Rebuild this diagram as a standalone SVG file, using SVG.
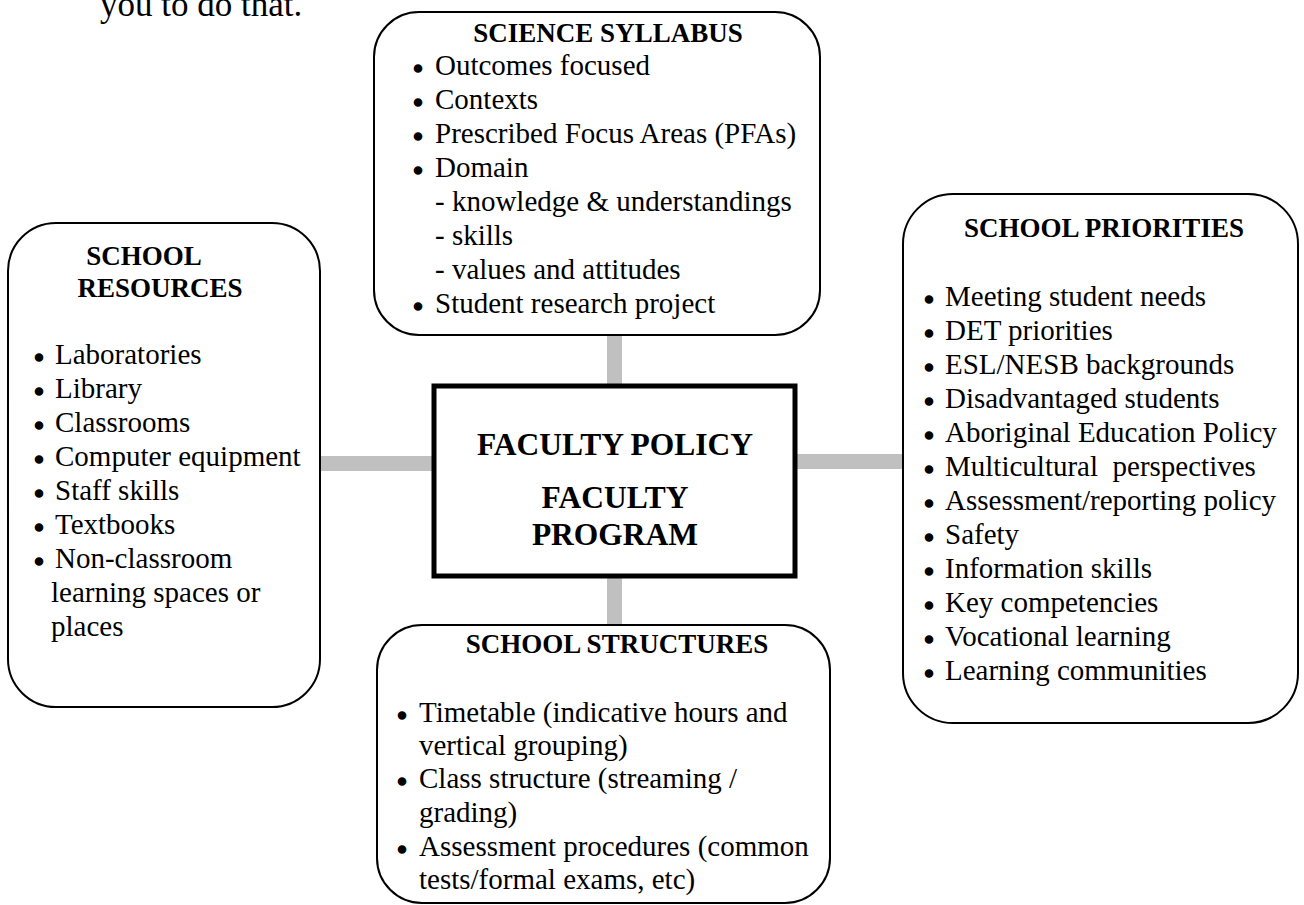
<svg xmlns="http://www.w3.org/2000/svg" width="1304" height="905" viewBox="0 0 1304 905">
  <style>
    text { font-family: "Liberation Serif", "Times New Roman", serif; fill: #000; }
    .body { font-size: 29px; }
    .dot { font-size: 30px; text-anchor: middle; stroke: #000; stroke-width: 1.4; }
    .head { font-size: 27px; font-weight: bold; text-anchor: middle; }
    .core { font-size: 31.5px; font-weight: bold; text-anchor: middle; }
    .box { fill: #fff; stroke: #000; stroke-width: 2; }
    .core-box { fill: #fff; stroke: #000; stroke-width: 5; }
    .link { fill: #c0c0c0; }
  </style>

  <!-- running text above the figure -->
  <text x="100" y="16" style="font-size:35px">you to do that.</text>

  <!-- grey bars joining the centre box to the four surrounding boxes -->
  <g id="connectors">
    <rect class="link" x="607" y="330" width="15" height="60"/>
    <rect class="link" x="607" y="572" width="15" height="58"/>
    <rect class="link" x="316" y="456" width="120" height="15"/>
    <rect class="link" x="793" y="454" width="114" height="15"/>
  </g>

  <g id="science-syllabus">
    <rect class="box" x="374" y="12" width="446" height="323" rx="45" ry="45"/>
    <text class="head" x="608" y="42">SCIENCE SYLLABUS</text>
    <text class="dot" x="418" y="78.5">•</text>
    <text class="body" x="435" y="75">Outcomes focused</text>
    <text class="dot" x="418" y="112.5">•</text>
    <text class="body" x="435" y="109">Contexts</text>
    <text class="dot" x="418" y="146.5">•</text>
    <text class="body" x="435" y="143">Prescribed Focus Areas (PFAs)</text>
    <text class="dot" x="418" y="180.5">•</text>
    <text class="body" x="435" y="177">Domain</text>
    <text class="body" x="435" y="211">- knowledge &amp; understandings</text>
    <text class="body" x="435" y="245">- skills</text>
    <text class="body" x="435" y="279">- values and attitudes</text>
    <text class="dot" x="418" y="316.5">•</text>
    <text class="body" x="435" y="313">Student research project</text>
  </g>

  <g id="school-resources">
    <rect class="box" x="8" y="223" width="312" height="484" rx="48" ry="48"/>
    <text class="head" x="144" y="265">SCHOOL</text>
    <text class="head" x="160" y="297">RESOURCES</text>
    <text class="dot" x="39" y="367.5">•</text>
    <text class="body" x="55" y="364">Laboratories</text>
    <text class="dot" x="39" y="401.5">•</text>
    <text class="body" x="55" y="398">Library</text>
    <text class="dot" x="39" y="435.5">•</text>
    <text class="body" x="55" y="432">Classrooms</text>
    <text class="dot" x="39" y="469.5">•</text>
    <text class="body" x="55" y="466">Computer equipment</text>
    <text class="dot" x="39" y="503.5">•</text>
    <text class="body" x="55" y="500">Staff skills</text>
    <text class="dot" x="39" y="537.5">•</text>
    <text class="body" x="55" y="534">Textbooks</text>
    <text class="dot" x="39" y="571.5">•</text>
    <text class="body" x="55" y="568">Non-classroom</text>
    <text class="body" x="51" y="602">learning spaces or</text>
    <text class="body" x="51" y="636">places</text>
  </g>

  <g id="faculty-program">
    <rect class="core-box" x="434" y="386" width="361" height="190"/>
    <text class="core" x="615" y="455">FACULTY POLICY</text>
    <text class="core" x="615" y="508">FACULTY</text>
    <text class="core" x="615" y="545">PROGRAM</text>
  </g>

  <g id="school-priorities">
    <rect class="box" x="903" y="194" width="395" height="529" rx="50" ry="50"/>
    <text class="head" x="1104" y="237">SCHOOL PRIORITIES</text>
    <text class="dot" x="929" y="309.5">•</text>
    <text class="body" x="945" y="306">Meeting student needs</text>
    <text class="dot" x="929" y="343.5">•</text>
    <text class="body" x="945" y="340">DET priorities</text>
    <text class="dot" x="929" y="377.5">•</text>
    <text class="body" x="945" y="374">ESL/NESB backgrounds</text>
    <text class="dot" x="929" y="411.5">•</text>
    <text class="body" x="945" y="408">Disadvantaged students</text>
    <text class="dot" x="929" y="445.5">•</text>
    <text class="body" x="945" y="442">Aboriginal Education Policy</text>
    <text class="dot" x="929" y="479.5">•</text>
    <text class="body" x="945" y="476">Multicultural&#160; perspectives</text>
    <text class="dot" x="929" y="513.5">•</text>
    <text class="body" x="945" y="510">Assessment/reporting policy</text>
    <text class="dot" x="929" y="547.5">•</text>
    <text class="body" x="945" y="544">Safety</text>
    <text class="dot" x="929" y="581.5">•</text>
    <text class="body" x="945" y="578">Information skills</text>
    <text class="dot" x="929" y="615.5">•</text>
    <text class="body" x="945" y="612">Key competencies</text>
    <text class="dot" x="929" y="649.5">•</text>
    <text class="body" x="945" y="646">Vocational learning</text>
    <text class="dot" x="929" y="683.5">•</text>
    <text class="body" x="945" y="680">Learning communities</text>
  </g>

  <g id="school-structures">
    <rect class="box" x="377" y="625" width="453" height="278" rx="45" ry="45"/>
    <text class="head" x="617" y="653">SCHOOL STRUCTURES</text>
    <text class="dot" x="402" y="725.5">•</text>
    <text class="body" x="419" y="722">Timetable (indicative hours and</text>
    <text class="body" x="419" y="755">vertical grouping)</text>
    <text class="dot" x="402" y="791.5">•</text>
    <text class="body" x="419" y="788">Class structure (streaming /</text>
    <text class="body" x="419" y="822">grading)</text>
    <text class="dot" x="402" y="859.5">•</text>
    <text class="body" x="419" y="856">Assessment procedures (common</text>
    <text class="body" x="419" y="889">tests/formal exams, etc)</text>
  </g>
</svg>
